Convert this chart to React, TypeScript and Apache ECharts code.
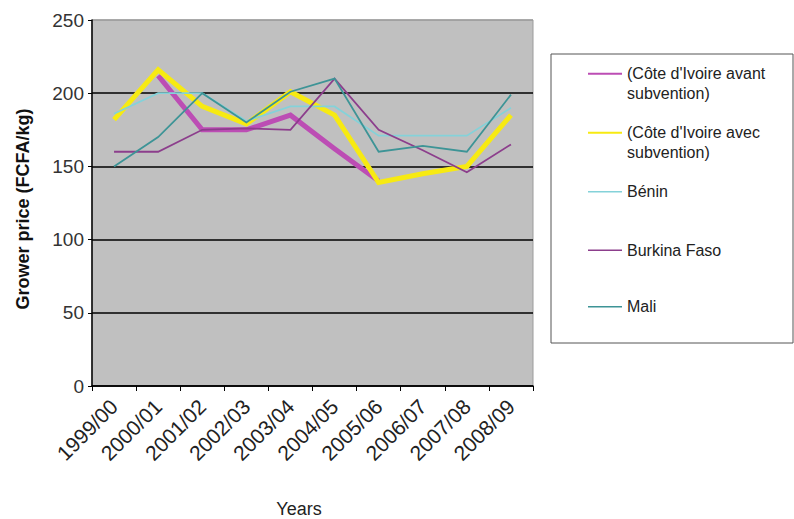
import React, { useEffect, useRef } from "react";
import * as echarts from "echarts";

const years = ["1999/00", "2000/01", "2001/02", "2002/03", "2003/04", "2004/05", "2005/06", "2006/07", "2007/08", "2008/09"];
const seriesNames = ["(Côte d'Ivoire avant subvention)", "(Côte d'Ivoire avec subvention)", "Bénin", "Burkina Faso", "Mali"];
const legendLabels = ["(Côte d'Ivoire avant\nsubvention)", "(Côte d'Ivoire avec\nsubvention)", "Bénin", "Burkina Faso", "Mali"];
const civAvant = [null, 212, 175, 175, 185, 162, 140, null, null, null];
const civAvec = [182, 216, 191, 179, 201, 185, 139, 145, 150, 185];
const benin = [186, 200, 200, 181, 191, 191, 171, 171, 171, 190];
const burkina = [160, 160, 175, 176, 175, 210, 175, 161, 146, 165];
const mali = [150, 170, 200, 180, 201, 210, 160, 164, 160, 199];
const yTicks = [0, 50, 100, 150, 200, 250];

const colors = ["#BC4DB4", "#F7EA12", "#84D2D9", "#8C3E8C", "#3D9496"];
const widths = [5, 5, 1.8, 1.8, 1.8];
const legendWidths = [2.2, 2.2, 1.4, 1.4, 1.4];
const legendY = [64, 123, 182, 240.5, 297];

export default function App() {
  const ref = useRef<HTMLDivElement>(null);
  useEffect(() => {
    if (!ref.current) return;
    const chart = echarts.init(ref.current, null, { renderer: "svg" });
    const dataSets = [civAvant, civAvec, benin, burkina, mali];
    const legendGraphics: any[] = [
      {
        type: "rect",
        shape: { x: 551, y: 54, width: 242, height: 289 },
        style: { fill: "#ffffff", stroke: "#555555", lineWidth: 1 },
      },
    ];
    legendLabels.forEach((label, i) => {
      const cy = legendY[i] + 9.75;
      legendGraphics.push({
        type: "line",
        shape: { x1: 588, y1: cy, x2: 622, y2: cy },
        style: { stroke: colors[i], lineWidth: legendWidths[i] },
      });
      legendGraphics.push({
        type: "text",
        x: 627,
        y: legendY[i],
        style: {
          text: label,
          font: "16px 'Liberation Sans', Arial, sans-serif",
          fill: "#222222",
          verticalAlign: "top",
          lineHeight: 19.5,
        },
      });
    });
    chart.setOption({
      animation: false,
      backgroundColor: "#ffffff",
      grid: {
        left: 92,
        right: 261,
        top: 20,
        bottom: 133,
        show: true,
        backgroundColor: "#C0C0C0",
        borderColor: "#9C9C9C",
        borderWidth: 1,
      },
      xAxis: {
        type: "category",
        data: years,
        boundaryGap: true,
        axisLine: { lineStyle: { color: "#000", width: 1.5 } },
        axisTick: { show: true, length: 5, lineStyle: { color: "#000" } },
        axisLabel: {
          rotate: 45,
          margin: 17,
          interval: 0,
          fontSize: 21,
          color: "#222",
          fontFamily: "'Liberation Sans', Arial, sans-serif",
        },
      },
      yAxis: {
        type: "value",
        min: 0,
        max: 250,
        interval: 50,
        axisLine: { show: true, lineStyle: { color: "#000", width: 1.5 } },
        axisTick: { show: true, length: 4, lineStyle: { color: "#000" } },
        axisLabel: {
          margin: 8,
          fontSize: 19,
          color: "#333",
          fontFamily: "'Liberation Sans', Arial, sans-serif",
          formatter: (v: number) => (yTicks.includes(v) ? String(v) : ""),
        },
        splitLine: {
          show: true,
          lineStyle: { color: ["#000", "#000", "#000", "#000", "#000", "#9C9C9C"], width: 1.6 },
        },
      },
      graphic: [
        {
          type: "text",
          x: 23,
          y: 209,
          rotation: Math.PI / 2,
          style: {
            text: "Grower price (FCFA/kg)",
            font: "bold 18px 'Liberation Sans', Arial, sans-serif",
            fill: "#111",
            align: "center",
            verticalAlign: "middle",
          },
        },
        {
          type: "text",
          x: 299,
          y: 509,
          style: {
            text: "Years",
            font: "18px 'Liberation Sans', Arial, sans-serif",
            fill: "#222",
            align: "center",
            verticalAlign: "middle",
          },
        },
        ...legendGraphics,
      ],
      series: dataSets.map((d, i) => ({
        name: seriesNames[i],
        type: "line",
        data: d,
        showSymbol: false,
        symbol: "none",
        connectNulls: false,
        lineStyle: { color: colors[i], width: widths[i], join: "miter" },
        itemStyle: { color: colors[i] },
        z: 2 + i,
      })),
    });
    return () => chart.dispose();
  }, []);
  return (
    <div
      ref={ref}
      style={{ position: "fixed", left: 0, top: 0, width: 794, height: 519 }}
    />
  );
}
